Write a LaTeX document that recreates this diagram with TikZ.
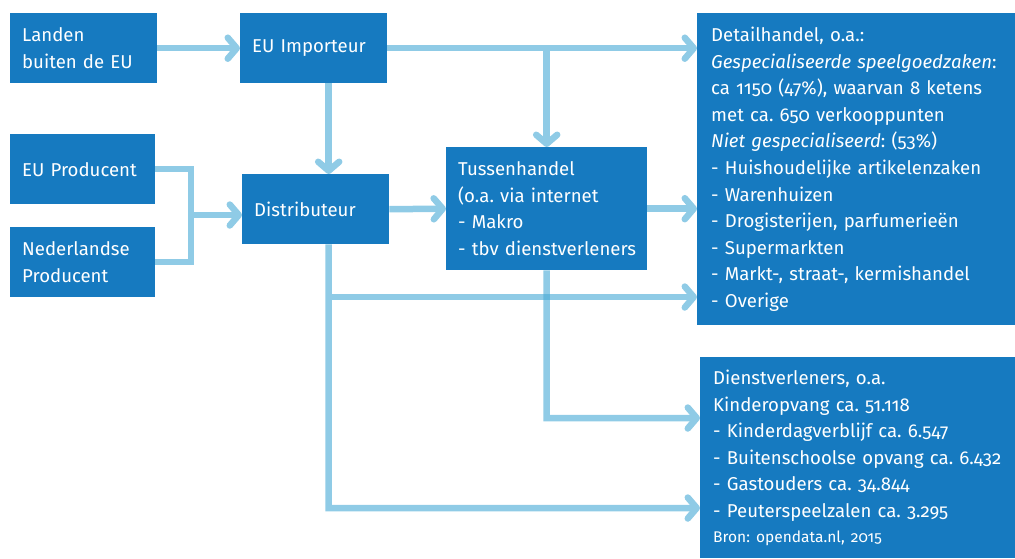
\documentclass[tikz,border=0pt]{standalone}
\usepackage{fontspec}
\setmainfont{Fira Sans}[Numbers=OldStyle]
\usetikzlibrary{arrows.meta,calc}
\definecolor{boxblue}{RGB}{22,122,192}
\definecolor{linkblue}{RGB}{143,203,230}
\definecolor{linkdark}{RGB}{74,171,214}
\frenchspacing
\newcommand\myboxfont{\fontsize{18.6}{26.6}\selectfont\hyphenpenalty=10000 \exhyphenpenalty=10000 \relax}
\begin{document}
\begin{tikzpicture}[x=1pt,y=-1pt,
  box/.style={fill=boxblue, text=white, anchor=north west, inner xsep=12pt, inner ysep=0pt, align=left, font=\myboxfont},
  link/.style={draw=linkblue, line width=6.5pt},
  arr/.style={link, -{Straight Barb[length=9pt,width=21pt,round]}}]
\useasboundingbox (0,0) rectangle (1015,558);
\node[box, minimum width=147pt, text width=123pt, minimum height=70pt] (landen) at (10,13) {Landen\\buiten de EU};
\node[box, minimum width=147pt, text width=123pt, minimum height=70pt] (importeur) at (240,13) {EU Importeur};
\node[box, minimum width=145pt, text width=121pt, minimum height=70pt] (eup) at (10,134) {EU Producent};
\node[box, minimum width=145pt, text width=121pt, minimum height=70pt] (nlp) at (10,227) {Nederlandse\\Producent};
\node[box, minimum width=147pt, text width=123pt, minimum height=70pt] (dist) at (242,174) {Distributeur};
\node[box, minimum width=201pt, text width=177pt, minimum height=123pt] (tussen) at (446,147) {Tussenhandel\\(o.a. via internet\\- Makro\\\mbox{- tbv dienstverleners}};
\node[box, minimum width=340pt, text width=312pt, inner xsep=14pt, minimum height=312pt] (detail) at (697,13) {Detailhandel, o.a.:\\
\textit{Gespecialiseerde speelgoedzaken}:\\
ca 1150 (47\%), waarvan 8 ketens\\
met ca. 650 verkooppunten\\
\textit{Niet gespecialiseerd}: (53\%)\\
- Huishoudelijke artikelenzaken\\
- Warenhuizen\\
- Drogisterijen, parfumerieën\\
- Supermarkten\\
- Markt-, straat-, kermishandel\\
- Overige};
\node[box, minimum width=340pt, text width=314pt, inner xsep=13pt, minimum height=201pt] (dienst) at (700,357) {Dienstverleners, o.a.\\
Kinderopvang ca. 51.118\\
- Kinderdagverblijf ca. 6.547\\
- Buitenschoolse opvang ca. 6.432\\
- Gastouders ca. 34.844\\
- Peuterspeelzalen ca. 3.295\\[-2pt]
{\fontsize{15.5}{24}\selectfont Bron: opendata.nl, 2015}};
% connectors
\draw[arr] (landen.east) -- (importeur.west);
\draw[arr] (importeur.east) -- (importeur.east -| detail.west);
\coordinate (b1) at (tussen.north |- importeur.east);
\draw[arr] (b1) -- (tussen.north);
\coordinate (v1) at ([xshift=15pt]importeur.south);
\draw[arr] (v1) -- (v1 |- dist.north);
\coordinate (j) at (191,215);
\draw[link] (eup.east) -| (j) |- (nlp.east);
\draw[arr] (j) -- (j -| dist.west);
\draw[arr] (dist.east) -- (tussen.west);
\draw[arr] (tussen.east) -- (tussen.east -| detail.west);
\coordinate (v2) at ([xshift=13pt]dist.south);
\coordinate (k1) at (328.5,297);
\coordinate (k2) at (328.5,508);
\draw[arr] (v2) -- (k2) -- (k2 -| dienst.west);
\draw[arr] (k1) -- (k1 -| detail.west);
\coordinate (k3) at (tussen.south |- 0,418);
\begin{scope}[transparency group, opacity=0.62]
\draw[arr, draw=linkdark] (tussen.south) -- (k3) -- (k3 -| dienst.west);
\end{scope}
\end{tikzpicture}
\end{document}
